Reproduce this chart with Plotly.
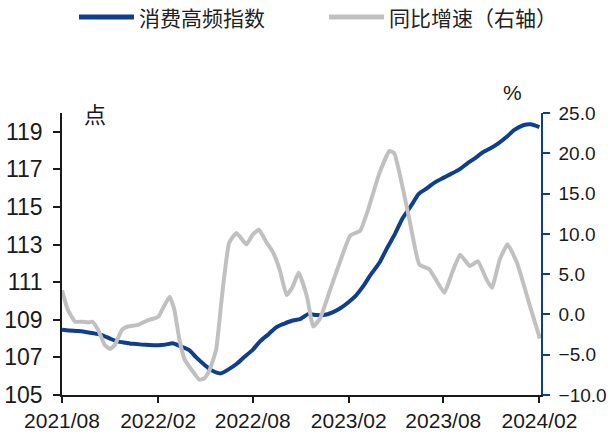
import pandas as pd
import plotly.graph_objects as go

# 消费高频指数 (left axis, points), semi-monthly
index_dates = pd.date_range("2021-08-01", "2024-02-01", freq="SMS")
index_values = [
    108.47, 108.43, 108.40, 108.35, 108.28, 108.20, 108.00, 107.85, 107.78, 107.72,
    107.68, 107.66, 107.65, 107.68, 107.75, 107.60, 107.40, 107.00, 106.60, 106.30,
    106.15, 106.35, 106.65, 107.00, 107.40, 107.85, 108.25, 108.60, 108.80, 108.95,
    109.05, 109.30, 109.25, 109.25, 109.40, 109.60, 109.95, 110.30, 110.80, 111.40,
    112.05, 112.80, 113.60, 114.40, 115.10, 115.70, 116.00, 116.30, 116.55, 116.75,
    117.00, 117.30, 117.60, 117.90, 118.15, 118.40, 118.75, 119.10, 119.35, 119.40,
    119.25,
]

# 同比增速 (right axis, %)
yoy_dates = [
    "2021-08-01", "2021-08-12", "2021-08-26", "2021-09-09", "2021-09-20", "2021-09-28",
    "2021-10-09", "2021-10-22", "2021-11-01", "2021-11-10", "2021-11-24", "2021-12-05",
    "2021-12-25", "2022-01-13", "2022-01-27", "2022-02-02", "2022-02-09", "2022-02-23",
    "2022-03-04", "2022-03-14", "2022-03-24", "2022-04-11", "2022-04-21", "2022-05-01",
    "2022-05-10", "2022-05-23", "2022-06-04", "2022-06-17", "2022-07-01", "2022-07-20",
    "2022-08-01", "2022-08-13", "2022-08-28", "2022-09-09", "2022-09-22", "2022-10-05",
    "2022-10-17", "2022-10-28", "2022-11-13", "2022-11-25", "2022-12-08", "2022-12-27",
    "2023-01-15", "2023-02-04", "2023-02-23", "2023-03-09", "2023-04-01", "2023-04-20",
    "2023-04-29", "2023-05-09", "2023-05-28", "2023-06-16", "2023-07-05", "2023-07-18",
    "2023-08-03", "2023-08-18", "2023-09-02", "2023-09-21", "2023-10-06", "2023-10-23",
    "2023-11-02", "2023-11-17", "2023-12-02", "2023-12-20", "2024-01-01", "2024-01-14",
    "2024-02-02",
]
yoy_values = [
    3.0, 0.6, -0.9, -0.9, -1.0, -0.9,
    -1.9, -3.8, -4.3, -3.8, -1.9, -1.5,
    -1.3, -0.7, -0.45, -0.25, 0.6, 2.2,
    0.6, -3.2, -5.6, -7.3, -8.1, -7.9,
    -7.0, -4.4, 2.7, 8.9, 10.1, 8.7,
    9.9, 10.5, 8.9, 7.7, 5.5, 2.4,
    3.5, 5.2, 2.2, -1.5, -0.5, 3.0,
    6.5, 9.8, 10.4, 12.8, 17.6, 20.3,
    20.0, 17.6, 11.8, 6.2, 5.6, 4.3,
    2.7, 5.2, 7.4, 6.0, 6.6, 4.3,
    3.3, 6.8, 8.7, 6.4, 3.9, 1.0,
    -3.0,
]

tick_dates = ["2021-08-01", "2022-02-01", "2022-08-01", "2023-02-01", "2023-08-01", "2024-02-01"]
tick_labels = ["2021/08", "2022/02", "2022/08", "2023/02", "2023/08", "2024/02"]
left_ticks = [105, 107, 109, 111, 113, 115, 117, 119]
right_ticks = [-10, -5, 0, 5, 10, 15, 20, 25]

NAVY = "#0f3f8c"
GREY = "#c0c0c0"
INK = "#1a1a1a"
NUM_FONT = "Liberation Sans, Arial, sans-serif"
CJK_FONT = "Noto Sans CJK SC, sans-serif"

# plot area in pixels: x 62..541, y 113..395
PL, PR, PT, PB = 62, 541, 113, 395


def px(x):
    return (x - PL) / (PR - PL)


def py(y):
    return (PB - y) / (PB - PT)


fig = go.Figure()
fig.add_trace(go.Scatter(
    x=index_dates, y=index_values, mode="lines", name="消费高频指数",
    line=dict(color=NAVY, width=4, shape="spline", smoothing=0.6),
    showlegend=False,
))
fig.add_trace(go.Scatter(
    x=yoy_dates, y=yoy_values, mode="lines", name="同比增速（右轴）", yaxis="y2",
    line=dict(color=GREY, width=4, shape="spline", smoothing=0.4),
    showlegend=False,
))

fig.update_layout(
    width=608, height=435,
    margin=dict(l=PL, r=608 - PR, t=PT, b=435 - PB),
    paper_bgcolor="white", plot_bgcolor="white",
    font=dict(family=NUM_FONT, size=21, color=INK),
    xaxis=dict(
        type="date", range=["2021-08-01", "2024-02-04"],
        tickvals=tick_dates, ticktext=tick_labels,
        tickfont=dict(size=21), automargin=False,
        showgrid=False, zeroline=False,
        showline=True, linecolor=INK, linewidth=1.5,
        ticks="outside", ticklen=6, tickcolor=INK, tickwidth=1.5,
        ticklabelstandoff=0,
    ),
    yaxis=dict(
        range=[105, 120], tickvals=left_ticks,
        tickfont=dict(size=23), automargin=False,
        showgrid=False, zeroline=False,
        showline=True, linecolor=INK, linewidth=1.5,
        ticks="outside", ticklen=7, tickcolor=INK, tickwidth=1.5,
        ticklabelstandoff=6,
    ),
    yaxis2=dict(
        range=[-10, 25], tickvals=right_ticks, tickformat=".1f",
        tickfont=dict(size=19), automargin=False,
        overlaying="y", side="right",
        showgrid=False, zeroline=False,
        showline=True, linecolor=NAVY, linewidth=1.5,
        ticks="outside", ticklen=7, tickcolor=NAVY, tickwidth=1.5,
        ticklabelstandoff=5,
    ),
)

# legend drawn along the top
legend_items = [
    (79, 134, NAVY, "消费高频指数"),
    (329, 384, GREY, "同比增速（右轴）"),
]
for x0, x1, color, label in legend_items:
    fig.add_shape(type="line", xref="paper", yref="paper",
                  x0=px(x0), x1=px(x1), y0=py(17), y1=py(17),
                  line=dict(color=color, width=5))
    fig.add_annotation(xref="paper", yref="paper",
                       x=px(x1 + 3), y=py(17),
                       xanchor="left", yanchor="middle", showarrow=False,
                       text=label, font=dict(family=CJK_FONT, size=21, color="#222222"))

# axis unit labels
fig.add_annotation(xref="paper", yref="paper", x=px(95), y=py(113),
                   xanchor="center", yanchor="middle", showarrow=False,
                   text="点", font=dict(family=CJK_FONT, size=22, color=INK))
fig.add_annotation(xref="paper", yref="paper", x=px(512), y=py(93),
                   xanchor="center", yanchor="middle", showarrow=False,
                   text="%", font=dict(family=NUM_FONT, size=21, color=INK))

fig.write_html("out.html")
